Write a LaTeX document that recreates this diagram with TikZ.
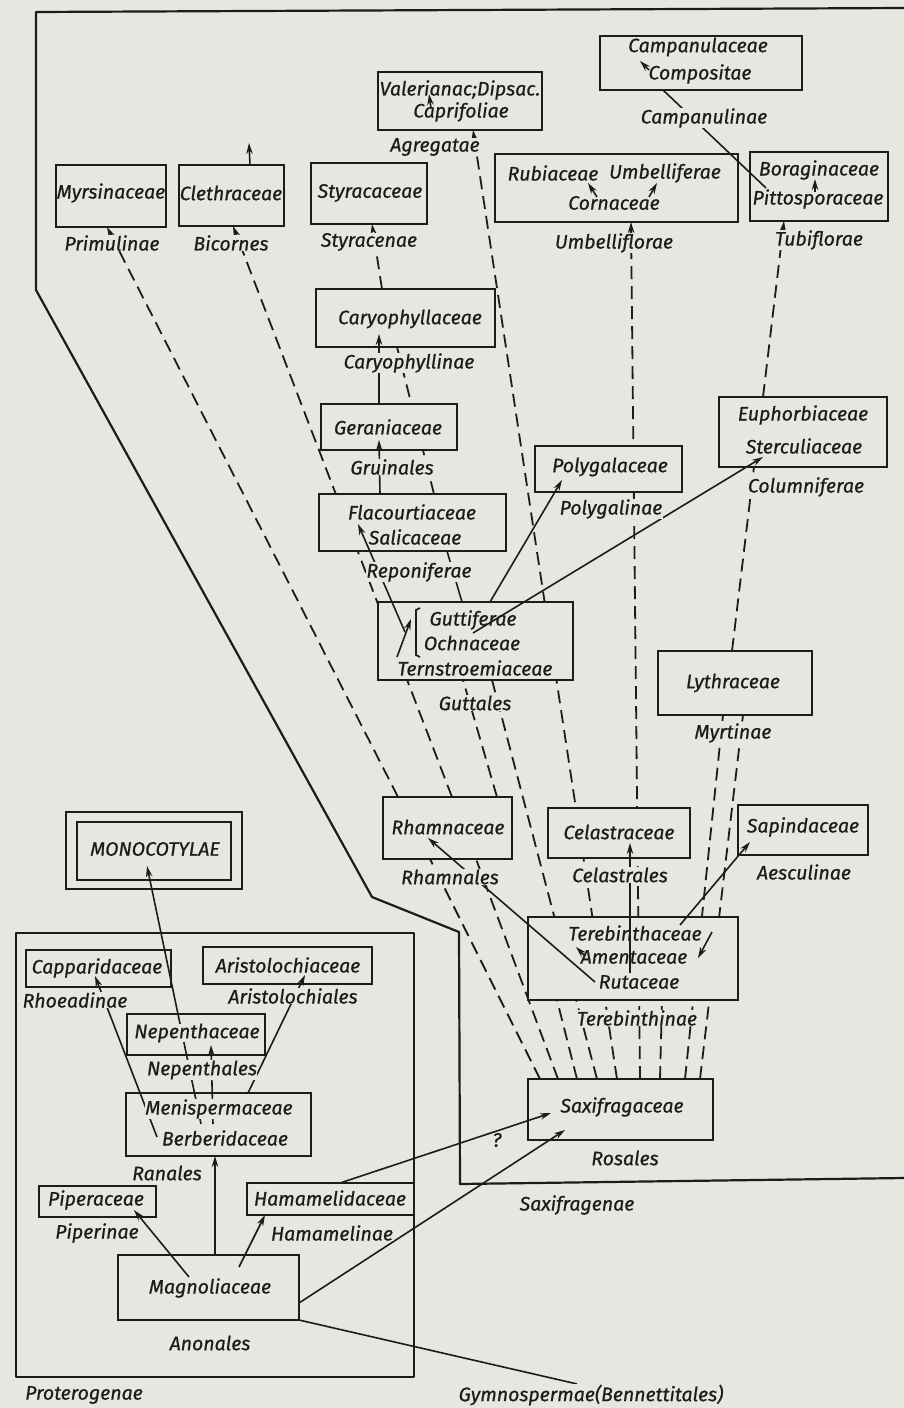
\documentclass[tikz,border=0pt]{standalone}
\usepackage{fontspec}
\setmainfont{Fira Sans}[ItalicFeatures={FakeBold=0.7}]
\usetikzlibrary{arrows.meta}
\definecolor{paper}{HTML}{E7E6E1}
\definecolor{ink}{HTML}{1C1C1C}
\pgfdeclarelayer{bg}
\pgfdeclarelayer{fg}
\pgfdeclarelayer{top}
\pgfsetlayers{bg,main,fg,top}
\tikzset{
  box/.style={draw=ink, line width=2pt, fill=paper, inner sep=0pt, outer sep=0pt, anchor=north west},
  fam/.style={font=\fontsize{19.5}{21}\selectfont\itshape, text=ink, inner sep=0pt},
  famf/.style={fam, fill=paper},
  grp/.style={font=\fontsize{19.5}{21}\selectfont\itshape, text=ink, fill=paper, inner sep=0.5pt},
  dline/.style={draw=ink, line width=1.8pt, dash pattern=on 13pt off 7pt},
  sline/.style={draw=ink, line width=1.6pt},
  tip/.style={-{Stealth[length=11pt,width=6.5pt]}},
  otip/.style={-{Stealth[length=11pt,width=6.5pt,open]}},
  border/.style={draw=ink, line width=2.2pt, line join=round},
}
\begin{document}
\begin{tikzpicture}[x=1pt,y=-1pt]
\useasboundingbox (0,0) rectangle (904,1408);
\begin{pgfonlayer}{bg}
\fill[paper] (0,0) rectangle (904,1408);
\end{pgfonlayer}

% region outlines
\draw[border] (904,8) -- (36,12) -- (36,290) -- (372,897) -- (459,932) -- (460,1184) -- (904,1178);
\draw[border] (16,933) rectangle (414,1377);

% boxes
\node[box, minimum width=202pt, minimum height=54pt] (bCamp) at (600,36) {};
\node[box, minimum width=164pt, minimum height=58pt] (bValer) at (378,72) {};
\node[box, minimum width=110pt, minimum height=62pt] (bMyrs) at (56,165) {};
\node[box, minimum width=105pt, minimum height=61pt] (bCleth) at (179,165) {};
\node[box, minimum width=116pt, minimum height=61pt] (bStyr) at (311,163) {};
\node[box, minimum width=243pt, minimum height=68pt] (bUmb) at (495,154) {};
\node[box, minimum width=138pt, minimum height=69pt] (bBor) at (750,152) {};
\node[box, minimum width=179pt, minimum height=58pt] (bCaryo) at (316,289) {};
\node[box, minimum width=136pt, minimum height=46pt] (bGer) at (321,404) {};
\node[box, minimum width=187pt, minimum height=57pt] (bFlac) at (319,494) {};
\node[box, minimum width=147pt, minimum height=46pt] (bPoly) at (535,446) {};
\node[box, minimum width=168pt, minimum height=70pt] (bEuph) at (719,397) {};
\node[box, minimum width=195pt, minimum height=78pt] (bGutt) at (378,602) {};
\node[box, minimum width=154pt, minimum height=64pt] (bLyth) at (658,651) {};
\node[box, minimum width=129pt, minimum height=62pt] (bRham) at (383,797) {};
\node[box, minimum width=142pt, minimum height=50pt] (bCel) at (548,808) {};
\node[box, minimum width=130pt, minimum height=50pt] (bSap) at (738,805) {};
\node[box, minimum width=210pt, minimum height=83pt] (bTer) at (528,917) {};
\node[box, minimum width=185pt, minimum height=61pt] (bSax) at (528,1079) {};
\node[box, minimum width=176pt, minimum height=77pt] (bMonoO) at (66,812) {};
\node[box, minimum width=154pt, minimum height=58pt] (bMonoI) at (77,822) {};
\node[box, minimum width=145pt, minimum height=37pt] (bCapp) at (26,950) {};
\node[box, minimum width=169pt, minimum height=37pt] (bArist) at (203,947) {};
\node[box, minimum width=138pt, minimum height=41pt] (bNep) at (127,1014) {};
\node[box, minimum width=185pt, minimum height=63pt] (bMeni) at (126,1093) {};
\node[box, minimum width=117pt, minimum height=31pt] (bPip) at (39,1186) {};
\node[box, minimum width=167pt, minimum height=32pt] (bHam) at (247,1183) {};
\node[box, minimum width=181pt, minimum height=65pt] (bMagn) at (118,1255) {};

% family names
\node[fam] (tCamp) at (698,47) {Campanulaceae};
\node[fam] (tComp) at (700,74) {Compositae};
\node[fam] (tValer) at (460,90) {Valerianac;Dipsac.};
\node[fam] (tCapr) at (461,112) {Caprifoliae};
\node[fam] (tMyrs) at (111,193) {Myrsinaceae};
\node[fam] (tCleth) at (231,193) {Clethraceae};
\node[fam] (tStyr) at (370,193) {Styracaceae};
\node[fam] (tRub) at (553,173) {Rubiaceae};
\node[fam] (tUmbf) at (665,173) {Umbelliferae};
\node[fam] (tCorn) at (614,203) {Cornaceae};
\node[fam] (tBor) at (819,170) {Boraginaceae};
\node[fam] (tPitt) at (818,199) {Pittosporaceae};
\node[fam] (tCaryo) at (410,319) {Caryophyllaceae};
\node[fam] (tGer) at (388,427) {Geraniaceae};
\node[fam] (tFlac) at (412,512) {Flacourtiaceae};
\node[fam] (tSal) at (415,537) {Salicaceae};
\node[fam] (tPoly) at (610,467) {Polygalaceae};
\node[fam] (tEuph) at (803,415) {Euphorbiaceae};
\node[fam] (tSter) at (804,446) {Sterculiaceae};
\node[fam] (tGutt) at (473,620) {Guttiferae};
\node[fam] (tOchn) at (472,643) {Ochnaceae};
\node[fam] (tTern) at (475,668) {Ternstroemiaceae};
\node[fam] (tLyth) at (733,683) {Lythraceae};
\node[fam] (tRham) at (448,827) {Rhamnaceae};
\node[fam] (tCel) at (619,832) {Celastraceae};
\node[fam] (tSap) at (803,827) {Sapindaceae};
\node[fam] (tTer) at (635,933) {Terebinthaceae};
\node[fam] (tAment) at (634,957) {Amentaceae};
\node[fam] (tRut) at (639,982) {Rutaceae};
\node[fam] (tSax) at (622,1107) {Saxifragaceae};
\node[fam] (tMono) at (155,849) {MONOCOTYLAE};
\node[fam] (tCapp) at (97,968) {Capparidaceae};
\node[fam] (tArist) at (288,965) {Aristolochiaceae};
\node[fam] (tPip) at (96,1200) {Piperaceae};
\node[fam] (tHam) at (330,1198) {Hamamelidaceae};
\node[fam] (tMagn) at (210,1288) {Magnoliaceae};

% group labels and texts crossed by lines
\begin{pgfonlayer}{top}
\node[famf] (tNep) at (197,1033) {Nepenthaceae};
\node[famf] (tMeni) at (219,1109) {Menispermaceae};
\node[famf] (tBerb) at (225,1138) {Berberidaceae};
\node[grp] (lPrim) at (112,243) {Primulinae};
\node[grp] (lBic) at (231,243) {Bicornes};
\node[grp] (lStyr) at (369,242) {Styracenae};
\node[grp] (lAgr) at (435,147) {Agregatae};
\node[grp] (lCampn) at (704,118) {Campanulinae};
\node[grp] (lUmb) at (614,243) {Umbelliflorae};
\node[grp] (lTub) at (819,240) {Tubiflorae};
\node[grp] (lCaryo) at (409,363) {Caryophyllinae};
\node[grp] (lGru) at (392,467) {Gruinales};
\node[grp] (lPep) at (419,572) {Reponiferae};
\node[grp] (lPoly) at (611,509) {Polygalinae};
\node[grp] (lCol) at (806,487) {Columniferae};
\node[grp] (lGutt) at (475,703) {Guttales};
\node[grp] (lMyrt) at (733,733) {Myrtinae};
\node[grp] (lRham) at (450,877) {Rhamnales};
\node[grp] (lCel) at (620,875) {Celastrales};
\node[grp] (lAesc) at (804,872) {Aesculinae};
\node[grp] (lTer) at (637,1018) {Terebinthinae};
\node[grp] (lRos) at (625,1158) {Rosales};
\node[grp] (lSaxg) at (577,1205) {Saxifragenae};
\node[grp] (lRhoe) at (75,1000) {Rhoeadinae};
\node[grp] (lArist) at (293,996) {Aristolochiales};
\node[grp] (lNep) at (202,1070) {Nepenthales};
\node[grp] (lRan) at (167,1173) {Ranales};
\node[grp] (lPipi) at (97,1233) {Piperinae};
\node[grp] (lHam) at (332,1233) {Hamamelinae};
\node[grp] (lAnon) at (210,1343) {Anonales};
\node[grp] (lProt) at (84,1395) {Proterogenae};
\node[grp] (lGym) at (591,1395) {Gymnospermae(Bennettitales)};
\node[fam] (lQ) at (497,1140) {?};
\end{pgfonlayer}

% dashed connectors (behind boxes)
\begin{pgfonlayer}{bg}
\draw[dline, tip] ([xshift=15pt]bRham.north west) -- ([xshift=51pt]bMyrs.south west);
\draw[dline, tip] ([xshift=69pt]bRham.north west) -- ([xshift=54pt]bCleth.south west);
\draw[dline, tip] ([xshift=66pt]bCaryo.north west) -- ([xshift=61pt]bStyr.south west);
\draw[dline, tip] ([xshift=89pt]bSax.north west) -- ([xshift=95pt]bValer.south west);
\draw[dline, tip] ([xshift=112pt]bSax.north west) -- ([xshift=136pt]bUmb.south west);
\draw[dline, tip] ([xshift=44pt]bEuph.north west) -- ([xshift=34pt]bBor.south west);
\draw[dline] ([xshift=115pt]bFlac.north west) -- ([xshift=81pt]bCaryo.south west);
\draw[dline] ([xshift=74pt]bLyth.north west) -- ([xshift=35pt]bEuph.south west);
\draw[dline] ([xshift=157pt]bSax.north west) -- ([xshift=65pt]bLyth.south west);
\draw[dline] ([xshift=172pt]bSax.north west) -- ([xshift=85pt]bLyth.south west);
\draw[dline] ([xshift=114pt]bRham.north west) -- ([xshift=85pt]bGutt.south west);
\draw[dline] ([xshift=69pt]bSax.north west) -- ([xshift=114pt]bGutt.south west);
\draw[dline] ([xshift=12pt]bSax.north west) -- ([xshift=47pt]bRham.south west);
\draw[dline] ([xshift=30pt]bSax.north west) -- ([xshift=93pt]bRham.south west);
\draw[dline] ([xshift=49pt]bSax.north west) -- ([xshift=29pt]bTer.south west);
\draw[dline] ([xshift=132pt]bSax.north west) -- ([xshift=134pt]bTer.south west);
\end{pgfonlayer}

% solid connectors
\begin{pgfonlayer}{fg}
% upper part
\draw[sline, tip] ([xshift=49pt,yshift=-34pt]bCamp.north west) -- ([xshift=40pt,yshift=-25pt]bCamp.north west);
\draw[sline] ([xshift=16pt,yshift=-36pt]bBor.north west) -- ([xshift=63pt]bCamp.south west);
\draw[sline, tip] ([xshift=102pt,yshift=25pt]bUmb.south west) -- ([xshift=93pt,yshift=39pt]bUmb.south west);
\draw[sline, tip] ([xshift=154pt,yshift=25pt]bUmb.south west) -- ([xshift=162pt,yshift=39pt]bUmb.south west);
\draw[sline, tip] ([xshift=65pt,yshift=-40pt]bBor.north west) -- ([xshift=65pt,yshift=-27pt]bBor.north west);
\draw[sline, tip] ([xshift=53pt,yshift=-36pt]bValer.north west) -- ([xshift=51pt,yshift=-22pt]bValer.north west);
\draw[sline, tip] ([xshift=71pt]bCleth.north west) -- ([xshift=70pt,yshift=22pt]bCleth.north west);
% middle
\draw[sline, tip] ([xshift=58pt]bGer.north west) -- ([xshift=63pt,yshift=13pt]bCaryo.south west);
\draw[sline, tip] ([xshift=61pt]bFlac.north west) -- ([xshift=58pt,yshift=10pt]bGer.south west);
\draw[sline, tip] ([xshift=27pt,yshift=-30pt]bGutt.north west) -- ([xshift=39pt,yshift=27pt]bFlac.south west);
\draw[sline, tip] ([xshift=19pt,yshift=23pt]bGutt.south west) -- ([xshift=33pt,yshift=-17pt]bGutt.north west);
\draw[sline] ([xshift=42pt,yshift=-6pt]bGutt.north west) -- ([xshift=38pt,yshift=-8pt]bGutt.north west)
  -- ([xshift=38pt,yshift=25pt]bGutt.south west) -- ([xshift=42pt,yshift=23pt]bGutt.south west);
\draw[sline] ([xshift=128pt]bFlac.south west) -- ([xshift=84pt]bGutt.north west);
\draw[sline, tip] ([xshift=112pt]bGutt.north west) -- ([xshift=27pt,yshift=12pt]bPoly.south west);
\draw[sline, tip] ([xshift=95pt,yshift=-31pt]bGutt.north west) -- ([xshift=44pt,yshift=10pt]bEuph.south west);
% lower right
\draw[sline, tip] ([xshift=67pt,yshift=18pt]bTer.south west) -- ([xshift=45pt,yshift=21pt]bRham.south west);
\draw[sline, otip] ([xshift=102pt,yshift=27pt]bTer.south west) -- ([xshift=82pt,yshift=15pt]bCel.south west);
\draw[sline, tip] ([xshift=152pt,yshift=-8pt]bTer.north west) -- ([xshift=12pt,yshift=13pt]bSap.south west);
\draw[sline, tip] ([xshift=184pt,yshift=-15pt]bTer.north west) -- ([xshift=170pt,yshift=-41pt]bTer.north west);
\draw[sline, tip] ([xshift=57pt,yshift=-39pt]bTer.north west) -- ([xshift=48pt,yshift=-30pt]bTer.north west);
% lower left
\draw[sline, tip] ([xshift=75pt,yshift=-31pt]bMeni.north west) -- ([xshift=70pt,yshift=14pt]bMonoI.south west);
\draw[sline, tip] ([xshift=87pt,yshift=-31pt]bMeni.north west) -- ([xshift=84pt,yshift=10pt]bNep.south west);
\draw[sline, tip] ([xshift=122pt]bMeni.north west) -- ([xshift=102pt,yshift=9pt]bArist.south west);
\draw[sline, tip] ([xshift=31pt,yshift=19pt]bMeni.south west) -- ([xshift=69pt,yshift=11pt]bCapp.south west);
\draw[sline, tip] ([xshift=97pt]bMagn.north west) -- ([xshift=89pt]bMeni.south west);
\draw[sline, tip] ([xshift=71pt,yshift=-22pt]bMagn.north west) -- ([xshift=95pt,yshift=7pt]bPip.south west);
\draw[sline, tip] ([xshift=121pt,yshift=-12pt]bMagn.north west) -- ([xshift=18pt]bHam.south west);
\draw[sline, tip] ([xshift=93pt]bHam.north west) -- ([xshift=23pt,yshift=27pt]bSax.south west);
\draw[sline, tip] ([yshift=17pt]bMagn.south east) -- ([xshift=37pt,yshift=10pt]bSax.south west);
\draw[sline] (bMagn.south east) -- ([xshift=-14pt]lGym.north);
\end{pgfonlayer}
\end{tikzpicture}
\end{document}
